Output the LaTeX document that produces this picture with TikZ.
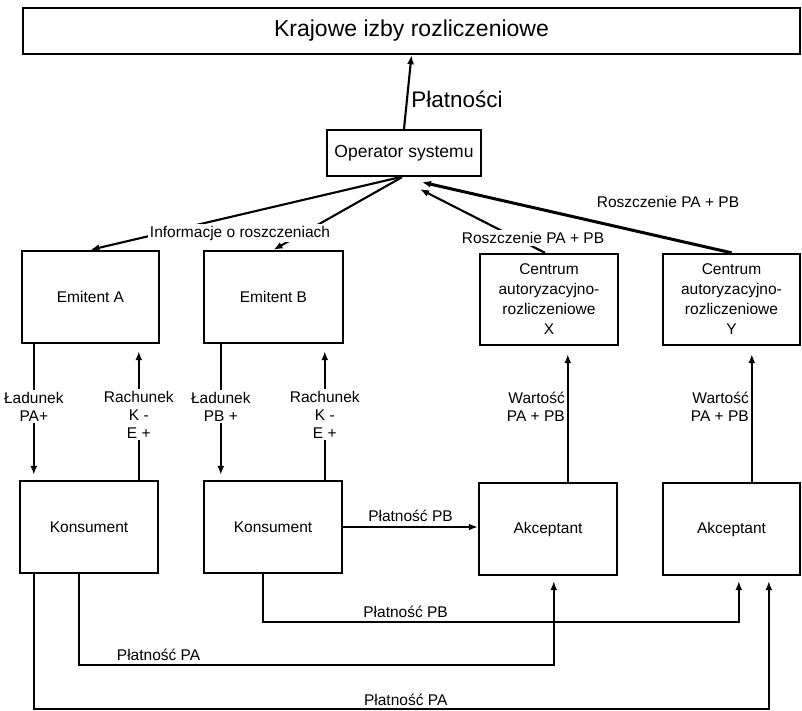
\documentclass[tikz,border=0pt]{standalone}
\usepackage{fontspec}
\setmainfont{Liberation Sans}
\usetikzlibrary{arrows.meta,calc,positioning}

\begin{document}
\begin{tikzpicture}[x=1pt, y=-1pt,
    box/.style={draw, line width=2.4pt, inner sep=2pt, align=center, font=\fontsize{15.5}{20}\selectfont},
    lbl/.style={font=\fontsize{15.5}{18}\selectfont, align=center, inner sep=2pt},
    cut/.style={lbl, fill=white},
    arr/.style={line width=2.1pt, -{Latex[length=9pt, width=7pt]}},
    pay/.style={line width=1.6pt, -{Latex[length=9pt, width=7pt]}}]
    \useasboundingbox (0,0) rectangle (802,710);

    % Clearing houses and operator
    \node[box, minimum width=777pt, minimum height=46pt, font=\fontsize{23}{26}\selectfont] (kib) at (411.5,31) {Krajowe izby rozliczeniowe};
    \node[box, minimum width=154pt, minimum height=46pt, font=\fontsize{17.5}{20}\selectfont] (op) at (404,153) {Operator systemu};

    % Issuers and authorisation centres
    \node[box, minimum width=137pt, minimum height=92pt] (emA) at (90.5,297) {Emitent A};
    \node[box, minimum width=139pt, minimum height=92pt] (emB) at (273.5,297) {Emitent B};
    \node[box, minimum width=138pt, minimum height=91pt] (centX) at (549,299.5) {Centrum\\autoryzacyjno-\\rozliczeniowe\\X};
    \node[box, minimum width=137pt, minimum height=91pt] (centY) at (731.5,299.5) {Centrum\\autoryzacyjno-\\rozliczeniowe\\Y};

    % Consumers and acceptors
    \node[box, minimum width=138pt, minimum height=92pt] (konA) at (89,527) {Konsument};
    \node[box, minimum width=138pt, minimum height=92pt] (konB) at (273,527) {Konsument};
    \node[box, minimum width=138pt, minimum height=92pt] (akcX) at (548,529) {Akceptant};
    \node[box, minimum width=137pt, minimum height=92pt] (akcY) at (731.5,529) {Akceptant};

    % Payments up to the clearing houses
    \draw[arr] (op.north) -- (kib.south) node[pos=0.4, right, font=\fontsize{22.5}{26}\selectfont] {Płatności};

    % Claim information
    \draw[arr] ([xshift=-4pt]op.south) -- (emA.north);
    \draw[arr] ([xshift=-2pt]op.south) -- (emB.north);
    \node[cut] (info) at (240,233) {Informacje o roszczeniach};

    % Claims from the centres
    \coordinate (inY) at ($(op.south)+(18,5)$);
    \coordinate (inX) at ($(op.south)+(16,12)$);
    \draw[arr, line width=3pt] (centY.north) -- (inY);
    \draw[arr] ([xshift=-4pt]centX.north) -- (inX);
    \node[cut] (roszX) at (533,238) {Roszczenie PA + PB};
    \node[lbl] (roszY) at (668,202) {Roszczenie PA + PB};

    % Loading and accounts
    \draw[arr, shorten >=5pt] ([xshift=13pt]emA.south west) -- ([xshift=13pt]emA.south west |- konA.north)
        node[cut, pos=0.46] (ladA) {Ładunek\\PA+};
    \draw[arr, shorten >=7pt] ([xshift=120pt]konA.north west) -- ([xshift=120pt]konA.north west |- emA.south)
        node[cut, pos=0.48] (rachA) {Rachunek\\K -\\E +};
    \draw[arr, shorten >=5pt] ([xshift=18pt]emB.south west) -- ([xshift=18pt]emB.south west |- konB.north)
        node[cut, pos=0.46] (ladB) {Ładunek\\PB +};
    \draw[arr, shorten >=7pt] ([xshift=122pt]konB.north west) -- ([xshift=122pt]konB.north west |- emB.south)
        node[cut, pos=0.48] (rachB) {Rachunek\\K -\\E +};

    % Values to the centres
    \draw[arr, shorten >=8pt] ([xshift=90pt]akcX.north west) -- ([xshift=90pt]akcX.north west |- centX.south)
        node[lbl, pos=0.55, left, align=right] (wX) {Wartość\\PA + PB};
    \draw[arr, shorten >=8pt] ([xshift=90pt]akcY.north west) -- ([xshift=90pt]akcY.north west |- centY.south)
        node[lbl, pos=0.55, left, align=right] (wY) {Wartość\\PA + PB};

    % Payments to the acceptors
    \draw[arr] (konB.east) -- (konB.east -| akcX.west) node[lbl, midway, above, inner sep=4pt] {Płatność PB};
    \draw[pay, shorten >=5pt] ([xshift=60pt]konB.south west) -- ++(0,48) -| ([xshift=77pt]akcY.south west)
        node[lbl, pos=0.15, above, inner sep=4pt] {Płatność PB};
    \draw[pay, shorten >=5pt] ([xshift=60pt]konA.south west) -- ++(0,91) -| ([xshift=76pt]akcX.south west)
        node[lbl, pos=0.084, above, inner sep=4pt] {Płatność PA};
    \draw[pay, shorten >=5pt] ([xshift=15pt]konA.south west) -- ++(0,135) -| ([xshift=107pt]akcY.south west)
        node[lbl, pos=0.253, above, inner sep=3pt] {Płatność PA};
\end{tikzpicture}
\end{document}
